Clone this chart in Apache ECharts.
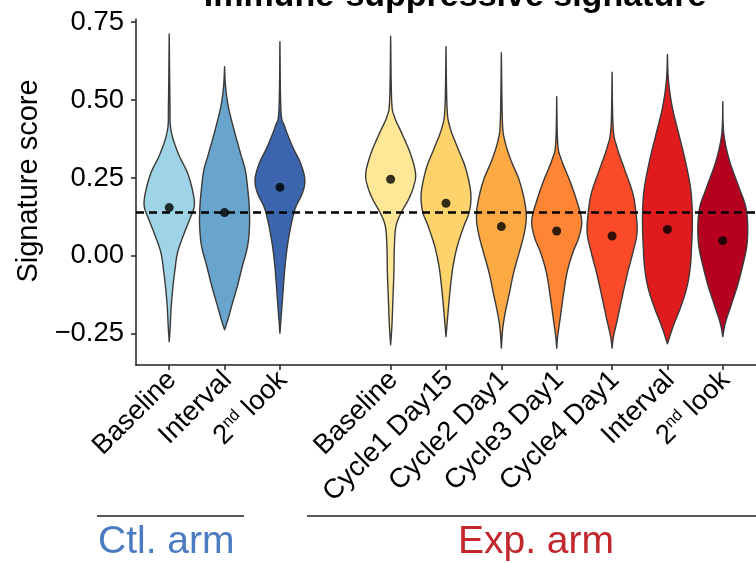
<!DOCTYPE html>
<html>
<head>
<meta charset="utf-8">
<script src="https://cdn.jsdelivr.net/npm/echarts@6/dist/echarts.min.js"></script>
<style>
html,body{margin:0;padding:0;background:#fff;}
#chart{width:756px;height:563px;}
</style>
</head>
<body>
<div id="chart"></div>
<script>
// ---------- DATA ----------
const titleText = 'Immune-suppressive signature';
const yAxisTitle = 'Signature score';
const yTicks = [-0.25, 0, 0.25, 0.5, 0.75];
const referenceLine = 0.137;

const ctlArmLabel = 'Ctl. arm';
const expArmLabel = 'Exp. arm';

const ctlCategories = ['Baseline', 'Interval', '2nd look'];
const expCategories = ['Baseline', 'Cycle1 Day15', 'Cycle2 Day1', 'Cycle3 Day1', 'Cycle4 Day1', 'Interval', '2nd look'];

const ctlMedians = [0.155, 0.139, 0.220];
const expMedians = [0.246, 0.169, 0.094, 0.080, 0.064, 0.085, 0.049];

// violin profiles: [score, relative density (1 = widest)] from top to bottom
const ctlProfiles = [
  [[0.712,0],[0.489,0.03],[0.404,0.07],[0.329,0.36],[0.265,0.74],[0.201,0.96],[0.158,1.0],[0.115,0.81],[0.062,0.55],[0.009,0.33],[-0.045,0.23],[-0.098,0.15],[-0.162,0.08],[-0.226,0.04],[-0.275,0]],
  [[0.607,0],[0.543,0.04],[0.479,0.15],[0.404,0.38],[0.329,0.64],[0.276,0.83],[0.222,0.92],[0.158,0.99],[0.094,1.0],[0.030,0.92],[-0.034,0.71],[-0.098,0.51],[-0.162,0.28],[-0.205,0.13],[-0.237,0]],
  [[0.687,0],[0.468,0.04],[0.415,0.19],[0.350,0.51],[0.297,0.83],[0.244,1.0],[0.201,0.9],[0.158,0.64],[0.115,0.49],[0.062,0.36],[0.009,0.26],[-0.055,0.18],[-0.12,0.12],[-0.184,0.06],[-0.248,0]]
];
const expProfiles = [
  [[0.705,0],[0.5,0.04],[0.447,0.15],[0.393,0.45],[0.329,0.79],[0.265,1.0],[0.222,0.92],[0.18,0.71],[0.137,0.41],[0.094,0.21],[0.03,0.15],[-0.055,0.13],[-0.141,0.09],[-0.226,0.05],[-0.285,0]],
  [[0.671,0],[0.479,0.04],[0.415,0.15],[0.35,0.45],[0.286,0.77],[0.222,0.96],[0.18,1.0],[0.137,0.92],[0.094,0.71],[0.03,0.45],[-0.034,0.28],[-0.098,0.18],[-0.173,0.09],[-0.259,0]],
  [[0.652,0],[0.436,0.04],[0.372,0.13],[0.308,0.38],[0.244,0.71],[0.18,0.92],[0.126,1.0],[0.073,0.92],[0.009,0.71],[-0.055,0.49],[-0.12,0.32],[-0.184,0.15],[-0.237,0.05],[-0.296,0]],
  [[0.511,0],[0.361,0.04],[0.308,0.19],[0.244,0.51],[0.18,0.79],[0.115,1.0],[0.062,0.9],[0.009,0.64],[-0.055,0.41],[-0.13,0.26],[-0.205,0.13],[-0.258,0.04],[-0.296,0]],
  [[0.589,0],[0.415,0.04],[0.35,0.19],[0.276,0.51],[0.201,0.83],[0.137,0.96],[0.073,1.0],[0.009,0.83],[-0.055,0.62],[-0.13,0.41],[-0.205,0.21],[-0.258,0.06],[-0.296,0]],
  [[0.646,0],[0.564,0.04],[0.479,0.19],[0.393,0.45],[0.308,0.71],[0.222,0.92],[0.158,0.99],[0.094,1.0],[0.03,0.97],[-0.034,0.92],[-0.098,0.79],[-0.162,0.54],[-0.226,0.23],[-0.282,0]],
  [[0.495,0],[0.393,0.04],[0.308,0.26],[0.222,0.64],[0.158,0.92],[0.094,1.0],[0.03,0.96],[-0.034,0.79],[-0.098,0.58],[-0.162,0.32],[-0.216,0.1],[-0.259,0]]
];

// ---------- STYLE ----------
const ctlColors = ['#9fd4e6', '#68a4cc', '#3b66ad'];
const expColors = ['#fee897', '#fed36b', '#fdaa45', '#fd8534', '#fb4a27', '#e01b1d', '#b6001f'];
const FONT = "'Liberation Sans', Arial, Helvetica, sans-serif";

// ---------- BUILD ----------
const groups = [];
ctlCategories.forEach((c, i) => groups.push({label: c, pos: i, median: ctlMedians[i], profile: ctlProfiles[i], color: ctlColors[i]}));
expCategories.forEach((c, j) => groups.push({label: c, pos: ctlCategories.length + 1 + j, median: expMedians[j], profile: expProfiles[j], color: expColors[j]}));
const tickPositions = groups.map(g => g.pos);
const posLabel = {};
groups.forEach(g => { posLabel[g.pos] = g.label; });

// smooth outline of a profile (Catmull-Rom through the read points, rendering only)
function smoothProfile(prof, steps) {
  const out = [];
  const n = prof.length;
  for (let i = 0; i < n - 1; i++) {
    const p0 = prof[Math.max(i - 1, 0)], p1 = prof[i], p2 = prof[i + 1], p3 = prof[Math.min(i + 2, n - 1)];
    for (let s = 0; s < steps; s++) {
      const t = s / steps, t2 = t * t, t3 = t2 * t;
      const f = (a, b, c, d) => 0.5 * ((2 * b) + (-a + c) * t + (2 * a - 5 * b + 4 * c - d) * t2 + (-a + 3 * b - 3 * c + d) * t3);
      out.push([f(p0[0], p1[0], p2[0], p3[0]), Math.max(0, f(p0[1], p1[1], p2[1], p3[1]))]);
    }
  }
  out.push(prof[n - 1]);
  return out;
}

function renderViolin(params, api) {
  const g = groups[params.dataIndex];
  const band = api.size([1, 0])[0];
  const half = 0.45 * band;
  const prof = smoothProfile(g.profile, 10);
  const right = [], left = [];
  prof.forEach(([v, d]) => {
    const p = api.coord([g.pos, v]);
    right.push([p[0] + d * half, p[1]]);
    left.push([p[0] - d * half, p[1]]);
  });
  const pts = right.concat(left.slice(1, -1).reverse());
  return {
    type: 'polygon',
    shape: {points: pts},
    style: {fill: g.color, stroke: '#3a3a3a', lineWidth: 1.4, lineJoin: 'round'}
  };
}

const chart = echarts.init(document.getElementById('chart'), null, {renderer: 'canvas'});
chart.setOption({
  animation: false,
  backgroundColor: '#fff',
  title: {
    text: titleText,
    left: 450,
    textAlign: 'center',
    top: -25,
    textStyle: {fontFamily: FONT, fontSize: 34, fontWeight: 'bold', color: '#000'}
  },
  grid: {left: 136, top: 19, width: 631, height: 346, containLabel: false},
  xAxis: {
    type: 'value',
    min: -0.6,
    max: (ctlCategories.length + expCategories.length) + 0.6,
    splitLine: {show: false},
    axisLine: {show: true, onZero: false, lineStyle: {color: '#222', width: 1.5}},
    axisTick: {show: true, customValues: tickPositions, length: 5, lineStyle: {color: '#222', width: 1.5}},
    axisLabel: {
      show: true,
      customValues: tickPositions,
      rotate: 45,
      margin: 8,
      align: 'right',
      verticalAlign: 'middle',
      padding: [8, 0, 0, 0],
      fontFamily: FONT,
      fontSize: 27.5,
      color: '#000',
      formatter: function (v) {
        const s = posLabel[Math.round(v)] || '';
        if (s.indexOf('2nd') === 0) return '2{sup|nd}' + s.slice(3);
        return s;
      },
      rich: {
        sup: {fontFamily: FONT, fontSize: 16, verticalAlign: 'top', color: '#000', padding: [0, 0, 10, 0]}
      }
    }
  },
  yAxis: {
    type: 'value',
    min: -0.35,
    max: 0.76,
    name: yAxisTitle,
    nameLocation: 'middle',
    nameGap: 92,
    nameTextStyle: {fontFamily: FONT, fontSize: 29, color: '#000', padding: [0, 0, 0, 22]},
    splitLine: {show: false},
    axisLine: {show: true, onZero: false, lineStyle: {color: '#222', width: 1.5}},
    axisTick: {show: true, customValues: yTicks, length: 5, lineStyle: {color: '#222', width: 1.5}},
    axisLabel: {
      customValues: yTicks,
      margin: 12,
      fontFamily: FONT,
      fontSize: 27.5,
      color: '#000',
      formatter: v => (v < 0 ? '\u2212' : '') + Math.abs(v).toFixed(2)
    }
  },
  series: [
    {
      type: 'custom',
      renderItem: renderViolin,
      data: groups.map(g => [g.pos, g.median]),
      encode: {x: 0, y: 1},
      clip: false,
      z: 2
    },
    {
      type: 'scatter',
      data: groups.map(g => [g.pos, g.median]),
      symbol: 'circle',
      symbolSize: 9,
      itemStyle: {color: '#000'},
      z: 4,
      markLine: {
        silent: true,
        symbol: 'none',
        label: {show: false},
        lineStyle: {type: [8, 5], width: 2.5, color: '#000'},
        data: [{yAxis: referenceLine}]
      }
    }
  ],
  graphic: [
    {type: 'line', shape: {x1: 97, y1: 516, x2: 244, y2: 516}, style: {stroke: '#222', lineWidth: 1.5}},
    {type: 'line', shape: {x1: 307, y1: 516, x2: 770, y2: 516}, style: {stroke: '#222', lineWidth: 1.5}},
    {type: 'text', x: 98, y: 542, style: {text: ctlArmLabel, font: '39px ' + FONT, fill: '#4b7bc1', textAlign: 'left', textVerticalAlign: 'middle'}},
    {type: 'text', x: 458, y: 542, style: {text: expArmLabel, font: '39px ' + FONT, fill: '#c1272d', textAlign: 'left', textVerticalAlign: 'middle'}}
  ]
});
</script>
</body>
</html>
